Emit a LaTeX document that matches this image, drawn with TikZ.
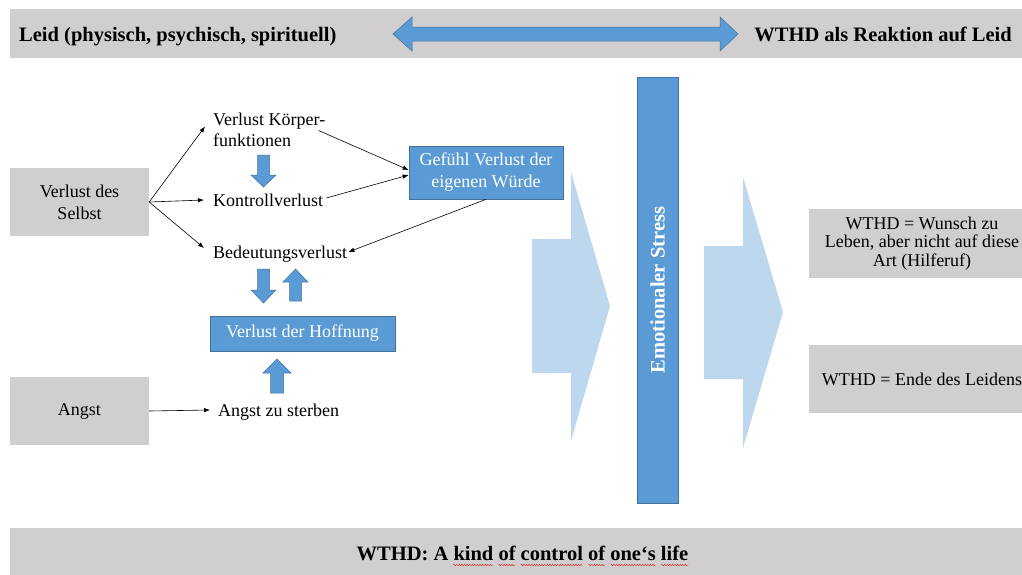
\documentclass[tikz,border=0pt]{standalone}
\usepackage{fontspec}
\setmainfont{Liberation Serif}
\usetikzlibrary{arrows.meta,decorations.pathmorphing}

\definecolor{boxgray}{HTML}{D0CECE}
\definecolor{accentblue}{HTML}{5B9BD5}
\definecolor{blueedge}{HTML}{41719C}
\definecolor{paleblue}{HTML}{BDD7EE}
\definecolor{spellred}{HTML}{E02020}

\begin{document}
\begin{tikzpicture}[x=1pt,y=-1pt,
  band/.style={fill=boxgray, draw=none, inner sep=0pt},
  graybox/.style={fill=boxgray, draw=none, inner sep=0pt, align=center,
    font=\fontsize{18}{22}\selectfont},
  bluebox/.style={fill=accentblue, draw=blueedge, line width=0.6pt, text=white,
    inner sep=0pt, align=center, font=\fontsize{18}{22}\selectfont},
  plainlabel/.style={inner sep=0pt, align=left, font=\fontsize{18}{21}\selectfont},
  title/.style={inner sep=0pt, font=\fontsize{20.5}{24}\selectfont\bfseries},
  thinarrow/.style={-{Latex[length=6pt,width=4.5pt]}, line width=0.6pt},
  blockarrow/.style={fill=accentblue, draw=blueedge, line width=0.5pt, line join=miter},
  chevron/.style={fill=paleblue, draw=none},
  spellmark/.style={draw=spellred, line width=0.4pt, decorate,
    decoration={snake, amplitude=0.7pt, segment length=2.6pt}},
]
\useasboundingbox (0,0) rectangle (1022,574);
\fill[white] (0,0) rectangle (1022,574);

% header band with the two-headed arrow
\node[band, minimum width=1012pt, minimum height=49pt, anchor=north west] (header) at (10,9) {};
\node[title, anchor=base west] (leid) at (19,41) {Leid (physisch, psychisch, spirituell)};
\node[title, anchor=base east] (reaktion) at (1012,41) {WTHD als Reaktion auf Leid};
\path[blockarrow] (393,34) -- (412,17) -- (412,27) -- (720,27) -- (720,17) -- (738,34)
  -- (720,51) -- (720,41) -- (412,41) -- (412,51) -- cycle;

% left-hand causes
\node[graybox, minimum width=139pt, minimum height=68pt] (selbst) at (79.5,202) {Verlust des\\Selbst};
\node[graybox, minimum width=139pt, minimum height=68pt] (angst) at (79.5,411) {Angst};

\node[plainlabel, anchor=west] (koerper) at (213,129.5) {Verlust Körper-\\funktionen};
\node[plainlabel, anchor=base west] (kontroll) at (213,206) {Kontrollverlust};
\node[plainlabel, anchor=base west] (bedeutung) at (213,258) {Bedeutungsverlust};
\node[plainlabel, anchor=base west] (sterben) at (218,416) {Angst zu sterben};

\node[bluebox, minimum width=154pt, minimum height=53pt] (wuerde) at (486,172.5) {Gefühl Verlust der\\eigenen Würde};
\node[bluebox, minimum width=185pt, minimum height=35pt] (hoffnung) at (302.5,333.5) {Verlust der Hoffnung};

% thin connectors
\draw[thinarrow] (selbst.east) -- ([xshift=-8pt,yshift=3pt]koerper.west);
\draw[thinarrow] (selbst.east) -- ([xshift=-9pt,yshift=6pt]kontroll.base west);
\draw[thinarrow] (selbst.east) -- ([xshift=-9pt,yshift=10pt]bedeutung.base west);
\draw[thinarrow] ([xshift=-7pt,yshift=-1pt]koerper.east) -- ([yshift=2.5pt]wuerde.west);
\draw[thinarrow] ([xshift=3pt,yshift=8pt]kontroll.base east) -- ([yshift=-2.5pt]wuerde.west);
\draw[thinarrow] (wuerde.south) -- ([xshift=1pt,yshift=6pt]bedeutung.base east);
\draw[thinarrow] (angst.east) -- ([xshift=-8pt,yshift=6pt]sterben.base west);

% block arrows between the statements
\path[blockarrow] (257.5,155) -- (269.5,155) -- (269.5,175) -- (276,175) -- (263.5,187)
  -- (251,175) -- (257.5,175) -- cycle;
\path[blockarrow] (257.5,269) -- (269.5,269) -- (269.5,290) -- (276,290) -- (263.5,303)
  -- (251,290) -- (257.5,290) -- cycle;
\path[blockarrow] (289.5,301) -- (301.5,301) -- (301.5,282) -- (308,282) -- (295.5,269)
  -- (283,282) -- (289.5,282) -- cycle;
\path[blockarrow] (270.5,393) -- (283.5,393) -- (283.5,373) -- (291,373) -- (277,359)
  -- (263,373) -- (270.5,373) -- cycle;

% wide pale arrows and the stress column
\fill[chevron] (532,239) -- (571,239) -- (571,172) -- (610,306) -- (571,441) -- (571,373)
  -- (532,373) -- cycle;
\node[bluebox, rotate=90, minimum width=426pt, minimum height=41pt,
  font=\fontsize{20.5}{24}\selectfont\bfseries] (stress) at (657.5,290) {Emotionaler Stress};
\fill[chevron] (704,246) -- (743,246) -- (743,177) -- (783,312) -- (743,448) -- (743,379)
  -- (704,379) -- cycle;

% outcomes
\node[graybox, minimum width=226pt, minimum height=69pt, font=\fontsize{18}{18.5}\selectfont]
  (wunsch) at (922,243.5) {WTHD = Wunsch zu\\Leben, aber nicht auf diese\\Art (Hilferuf)};
\node[graybox, minimum width=226pt, minimum height=68pt] (ende) at (922,379) {WTHD = Ende des Leidens};

% footer band
\node[band, minimum width=1012pt, minimum height=52pt, anchor=north west] (footer) at (10,528) {};
\node[title, anchor=base] (kontrolle) at (522.5,560) {WTHD: A kind of control of one‘s life};
\draw[spellmark] ([xshift=96.8pt,yshift=-5pt]kontrolle.base west) -- ++(39.9,0);
\draw[spellmark] ([xshift=141.8pt,yshift=-5pt]kontrolle.base west) -- ++(17.1,0);
\draw[spellmark] ([xshift=164.0pt,yshift=-5pt]kontrolle.base west) -- ++(62.6,0);
\draw[spellmark] ([xshift=231.8pt,yshift=-5pt]kontrolle.base west) -- ++(17.1,0);
\draw[spellmark] ([xshift=254.0pt,yshift=-5pt]kontrolle.base west) -- ++(45.6,0);
\draw[spellmark] ([xshift=304.7pt,yshift=-5pt]kontrolle.base west) -- ++(27.3,0);
\end{tikzpicture}
\end{document}
